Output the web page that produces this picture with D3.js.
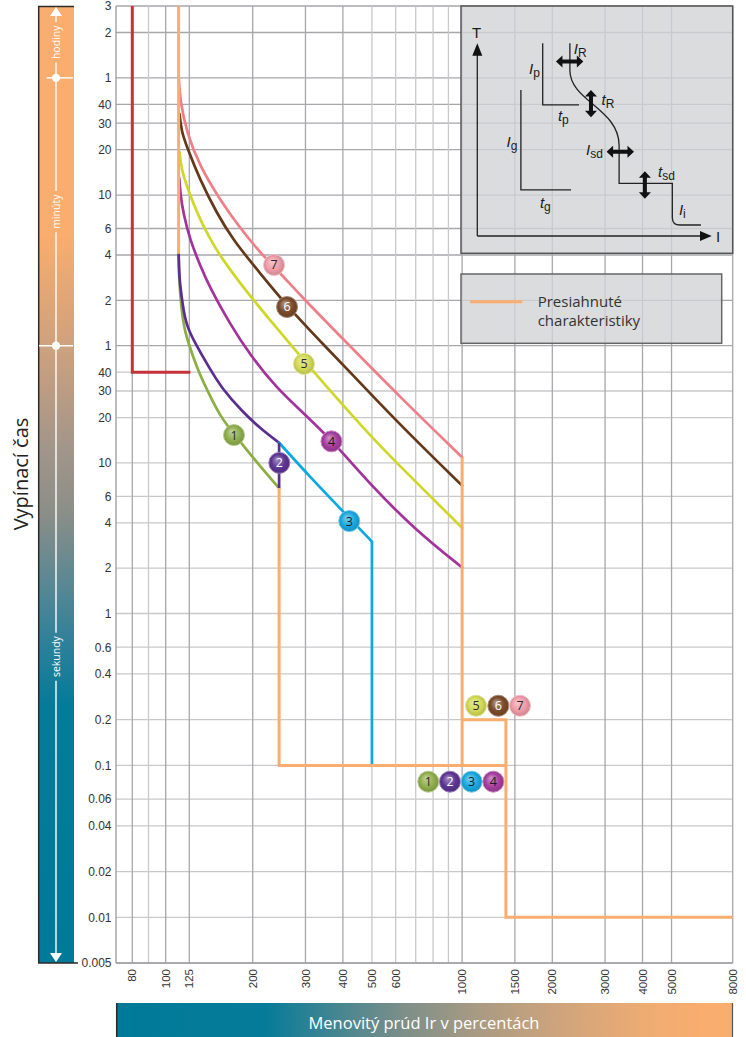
<!DOCTYPE html>
<html><head><meta charset="utf-8">
<script src="https://cdn.jsdelivr.net/npm/d3@7"></script>
<style>html,body{margin:0;padding:0;background:#fff;} svg{display:block;}</style>
</head><body>
<svg id="chart" width="746" height="1037"></svg>
<script>
// ---------------- data ----------------
const xTickValues = [80, 100, 125, 200, 300, 400, 500, 600, 1000, 1500, 2000, 3000, 4000, 5000, 8000];
const xGridDark = [80, 100, 125, 200, 300, 400, 1000, 1500, 2000, 3000, 4000, 5000, 8000];
const xGridLight = [90, 500, 600, 700, 800, 900];
const yTickValues = [10800, 7200, 3600, 2400, 1800, 1200, 600, 360, 240, 120, 60, 40, 30, 20, 10, 6, 4, 2, 1, 0.6, 0.4, 0.2, 0.1, 0.06, 0.04, 0.02, 0.01, 0.005];
const yTickLabels = ["3","2","1","40","30","20","10","6","4","2","1","40","30","20","10","6","4","2","1","0.6","0.4","0.2","0.1","0.06","0.04","0.02","0.01","0.005"];
const timeUnitLabels = ["hodiny", "minúty", "sekundy"];
const timeUnitCenters = [6200, 465, 0.52];
const timeUnitMarks = [3600, 60];

// curves: [current % of Ir, trip time in s]
const curve1 = [[113,240],[113.3,200],[113.9,151.9],[116.1,103.6],[119.5,76.3],[124.7,60.7],[132.3,42.7],[142.5,30.5],[158.1,19.9],[174.1,15.6],[206.2,10.1],[245,6.8]];
const curve2 = [[113,244],[113.4,200],[113.9,170],[115.6,135],[118.3,103.6],[122.3,79.9],[131.4,60.7],[145.7,42.0],[158.9,31.4],[184.3,22.1],[211.5,17.0],[245,13.6]];
const curve2Drop = [[245,13.6],[245,6.8]];
const curve3 = [[245,13.6],[310.7,8.06],[420.1,4.31],[500,3]];
const curve3Drop = [[500,3],[500,0.1]];
const curve4 = [[113.7,776],[115,600],[118.1,456],[125.65,302],[135.3,206],[145.7,145],[169,83.6],[196,52.1],[240.5,31.4],[287.6,22.5],[367,14.2],[505.4,6.81],[705.4,3.53],[1000,2.02]];
const curve5 = [[113.9,1160],[116,900],[122,682],[135.3,410],[147.9,293],[156.9,236.5],[191.3,136.4],[234.3,83.6],[298.9,46.8],[480.5,16.0],[604.9,10.0],[1000,3.70]];
const curve6 = [[114,2070],[116,1600],[122,1258],[135.3,756],[153.2,456],[172.8,302],[211.5,182],[260.4,110],[335.5,64.5],[422.4,40.1],[620,17.9],[1000,7.06]];
const curve7 = [[113,3700],[114.5,2570],[122,1550],[135,936],[157,557],[182,363],[211,251],[247,182],[288,130],[400,66.5],[620,27.4],[1000,10.9]];
const redLine = [[80,10800],[80,40],[126,40]];
const overA = [[113,10800],[113,244]];
const overB = [[245,6.8],[245,0.1],[1400,0.1],[1400,0.01],[8000,0.01]];
const overC = [[1000,10.9],[1000,0.1]];
const overD = [[1000,0.2],[1400,0.2],[1400,0.1]];

const badgeNums    = [7, 6, 5, 4, 1, 2, 3, 5, 6, 7, 1, 2, 3, 4];
const badgeCurrent = [235.6, 260.4, 296.6, 366.4, 174.1, 245.4, 420.1, 1113, 1321, 1560, 771, 911, 1076, 1271];
const badgeTime    = [206, 108.4, 45.4, 13.9, 15.3, 10.0, 4.11, 0.247, 0.247, 0.247, 0.0781, 0.0781, 0.0781, 0.0781];

const yTitle = "Vypínací čas";
const xTitle = "Menovitý prúd Ir v percentách";
const legendLines = ["Presiahnuté", "charakteristiky"];

// ---------------- styles ----------------
const lineColors = {1:"#8cae43", 2:"#5b2d90", 3:"#0aa9e2", 4:"#a3329b", 5:"#cfd72b", 6:"#653819", 7:"#ef7f87"};
const ballColors = {1:"#8fae4c", 2:"#5d3494", 3:"#19a8e0", 4:"#a63d9f", 5:"#d2d957", 6:"#7a4a2a", 7:"#ee9ba7"};
const ballText = {1:"#2a2a2a", 2:"#ffffff", 3:"#1a1a1a", 4:"#1a1a1a", 5:"#2a2a2a", 6:"#ffffff", 7:"#2a2a2a"};
const orange = "#f9ad6e", teal = "#007a99", red = "#c5323a";
const gridDark = "#a7a7ac", gridLight = "#c9c9cc";

const svg = d3.select("#chart");
const x = d3.scaleLog().domain([80, 90, 100, 125, 200, 8000]).range([132.3, 148.5, 165.7, 189.3, 252.7, 732.7]);
const y = d3.scaleLog().domain([0.005, 1, 10800]).range([963, 613.5, 6]);
const plotLeft = 116, plotRight = x(8000), plotTop = y(10800), plotBottom = y(0.005);

const defs = svg.append("defs");
const vg = defs.append("linearGradient").attr("id","vgrad").attr("x1",0).attr("y1",0).attr("x2",0).attr("y2",1);
[[0,orange],[0.24,orange],[0.36,"#cca17e"],[0.46,"#a3968a"],[0.53,"#8b8e88"],[0.60,"#5c8893"],[0.67,"#2b8099"],[0.73,"#047b99"],[1,teal]]
  .forEach(([o,c]) => vg.append("stop").attr("offset",o).attr("stop-color",c));
const hg = defs.append("linearGradient").attr("id","hgrad").attr("x1",0).attr("y1",0).attr("x2",1).attr("y2",0);
[[0,teal],[0.24,"#057b99"],[0.34,"#3b8492"],[0.46,"#7a8e89"],[0.58,"#a79a83"],[0.72,"#cfa47c"],[0.86,"#eeac72"],[0.95,orange],[1,orange]]
  .forEach(([o,c]) => hg.append("stop").attr("offset",o).attr("stop-color",c));
Object.keys(ballColors).forEach(k => {
  const base = ballColors[k];
  const g = defs.append("radialGradient").attr("id","ball"+k).attr("cx","50%").attr("cy","50%").attr("r","55%").attr("fx","38%").attr("fy","32%");
  g.append("stop").attr("offset",0).attr("stop-color", d3.interpolateRgb(base,"#fff")(0.45));
  g.append("stop").attr("offset",0.6).attr("stop-color", base);
  g.append("stop").attr("offset",1).attr("stop-color", d3.interpolateRgb(base,"#000")(0.18));
});

// ---------------- grid ----------------
const grid = svg.append("g");
grid.selectAll("line.hx").data(yTickValues).join("line")
  .attr("x1", plotLeft).attr("x2", plotRight)
  .attr("y1", d => y(d)).attr("y2", d => y(d))
  .attr("stroke", d => d >= 60 ? gridDark : gridLight).attr("stroke-width", 1.3);
grid.selectAll("line.vl").data(xGridLight).join("line")
  .attr("x1", d => x(d)).attr("x2", d => x(d)).attr("y1", plotTop).attr("y2", plotBottom)
  .attr("stroke", gridLight).attr("stroke-width", 1.3);
grid.selectAll("line.vd").data(xGridDark).join("line")
  .attr("x1", d => x(d)).attr("x2", d => x(d)).attr("y1", plotTop).attr("y2", plotBottom)
  .attr("stroke", gridDark).attr("stroke-width", 1.3);
svg.append("line").attr("x1", plotLeft).attr("x2", plotLeft).attr("y1", plotTop).attr("y2", plotBottom).attr("stroke", "#9a9a9f").attr("stroke-width", 1.3);
svg.append("line").attr("x1", plotLeft).attr("x2", plotRight).attr("y1", plotBottom).attr("y2", plotBottom).attr("stroke", "#9a9a9f").attr("stroke-width", 1.3);

svg.append("g").selectAll("text").data(yTickValues).join("text")
  .attr("x", 111.5).attr("y", d => y(d)).attr("dy", "0.36em")
  .attr("text-anchor", "end").attr("font-family", "'Liberation Sans', Arial, sans-serif")
  .attr("font-size", 12).attr("fill", "#333").text((d,i) => yTickLabels[i]);
svg.append("g").selectAll("text").data(xTickValues).join("text")
  .attr("transform", d => `translate(${x(d)},969) rotate(-90)`)
  .attr("dy", "0.36em").attr("text-anchor", "end")
  .attr("font-family", "'Liberation Sans', Arial, sans-serif").attr("font-size", 11.5).attr("fill", "#333")
  .text(d => d);

// ---------------- inset & legend boxes ----------------
const boxFill = "#d2d3d6";
svg.append("rect").attr("x", 461).attr("y", plotTop).attr("width", plotRight - 461).attr("height", 253.3 - plotTop)
  .attr("fill", boxFill).attr("fill-opacity", 0.8).attr("stroke", "#555").attr("stroke-width", 1.5);
svg.append("rect").attr("x", 461).attr("y", 274).attr("width", 260.7).attr("height", 69.3)
  .attr("fill", boxFill).attr("fill-opacity", 0.8).attr("stroke", "#666").attr("stroke-width", 1.5);

const ix = d3.scaleLinear().domain([0,100]).range([477.3, 711.7]);
const iy = d3.scaleLinear().domain([0,100]).range([236, 43.3]);
const inset = svg.append("g").attr("stroke", "#222").attr("fill", "none").attr("stroke-width", 1.3);
inset.append("line").attr("x1", ix(0)).attr("x2", ix(0)).attr("y1", iy(0)).attr("y2", iy(95));
inset.append("line").attr("x1", ix(0)).attr("x2", ix(96)).attr("y1", iy(0)).attr("y2", iy(0));
svg.append("path").attr("fill", "#111")
  .attr("d", `M${ix(0)},${iy(100)} L${ix(0)-5},${iy(93.5)} L${ix(0)+5},${iy(93.5)} Z`);
svg.append("path").attr("fill", "#111")
  .attr("d", `M${ix(100)},${iy(0)} L${ix(95)},${iy(0)-5} L${ix(95)},${iy(0)+5} Z`);
const lineI = d3.line().x(d => ix(d[0])).y(d => iy(d[1]));
inset.append("path").attr("d", lineI([[27.9,100],[27.9,68],[43.4,68]]));
inset.append("path").attr("d", lineI([[18.6,75.8],[18.6,23.9],[40,23.9]]));
inset.append("path").attr("d",
  `M${ix(39.5)},${iy(100)} L${ix(39.5)},${iy(86)} C${ix(39.5)},${iy(70)} ${ix(60.5)},${iy(66)} ${ix(60.5)},${iy(47)} ` +
  `L${ix(60.5)},${iy(27.3)} L${ix(83.2)},${iy(27.3)} L${ix(83.2)},${iy(9.5)} Q${ix(83.2)},${iy(5.7)} ${ix(86.5)},${iy(5.7)} L${ix(95.4)},${iy(5.7)}`);
function dblArrow(cx, cy, horizontal) {
  const L = 13.7, h = 6.5, w = 6, s = 2;
  const pts = [[-L,0],[-L+h,-w],[-L+h,-s],[L-h,-s],[L-h,-w],[L,0],[L-h,w],[L-h,s],[-L+h,s],[-L+h,w]];
  const X = ix(cx), Y = iy(cy);
  const p = pts.map(([a,b]) => horizontal ? [X+a, Y+b] : [X+b, Y+a]);
  svg.append("path").attr("fill", "#111").attr("d", "M" + p.map(q => q.join(",")).join("L") + "Z");
}
dblArrow(39.4, 90.5, true);
dblArrow(48.5, 68.7, false);
dblArrow(61.0, 43.7, true);
dblArrow(71.5, 26.5, false);
const insetLabels = [
  {m:"T", s:"", u:-0.3, v:102.7, anchor:"middle", it:false},
  {m:"I", s:"", u:101.8, v:-3.1, anchor:"start", it:false},
  {m:"I", s:"p", u:22.1, v:84.1, anchor:"start", it:true},
  {m:"I", s:"R", u:41.2, v:94.7, anchor:"start", it:true},
  {m:"t", s:"p", u:34.4, v:59.9, anchor:"start", it:true},
  {m:"t", s:"R", u:53.0, v:68.0, anchor:"start", it:true},
  {m:"I", s:"g", u:12.5, v:46.4, anchor:"start", it:true},
  {m:"I", s:"sd", u:46.4, v:41.8, anchor:"start", it:true},
  {m:"t", s:"g", u:26.7, v:14.5, anchor:"start", it:true},
  {m:"t", s:"sd", u:77.1, v:30.6, anchor:"start", it:true},
  {m:"I", s:"i", u:86.0, v:10.9, anchor:"start", it:true}
];
insetLabels.forEach(l => {
  const t = svg.append("text").attr("x", ix(l.u)).attr("y", iy(l.v)).attr("text-anchor", l.anchor)
    .attr("font-family", "'Liberation Sans', Arial, sans-serif").attr("font-size", 15).attr("fill", "#1a1a1a");
  t.append("tspan").attr("font-style", l.it ? "italic" : "normal").text(l.m);
  if (l.s) t.append("tspan").attr("font-size", 12).attr("dy", 3).text(l.s);
});

svg.append("line").attr("x1", 470).attr("x2", 522.3).attr("y1", 301.7).attr("y2", 301.7).attr("stroke", orange).attr("stroke-width", 3);
svg.append("g").selectAll("text").data(legendLines).join("text")
  .attr("x", 537.7).attr("y", (d,i) => 306.5 + i*19.5)
  .attr("font-family", "'Open Sans', 'Noto Sans', sans-serif").attr("font-size", 15).attr("fill", "#333").text(d => d);

// ---------------- curves ----------------
const lineLin = d3.line().x(d => x(d[0])).y(d => y(d[1]));
const lineSmooth = d3.line().x(d => x(d[0])).y(d => y(d[1])).curve(d3.curveBasis);
const curves = svg.append("g").attr("fill", "none").attr("stroke-width", 2.7).attr("stroke-linecap", "round");
[[curve7,7],[curve6,6],[curve5,5],[curve4,4],[curve1,1],[curve2,2],[curve3,3]].forEach(([d,k]) => {
  curves.append("path").attr("d", lineSmooth(d)).attr("stroke", lineColors[k]);
});
curves.append("path").attr("d", lineLin(curve2Drop)).attr("stroke", lineColors[2]).attr("stroke-linecap", "butt");
curves.append("path").attr("d", lineLin(curve3Drop)).attr("stroke", lineColors[3]).attr("stroke-linecap", "butt");
svg.append("path").attr("d", lineLin(redLine)).attr("fill", "none").attr("stroke", red).attr("stroke-width", 3);
const over = svg.append("g").attr("fill", "none").attr("stroke", orange).attr("stroke-width", 3).attr("stroke-linejoin", "miter");
[overA, overB, overC, overD].forEach(d => over.append("path").attr("d", lineLin(d)));

// ---------------- badges ----------------
const badges = svg.append("g").selectAll("g").data(badgeNums).join("g")
  .attr("transform", (d,i) => `translate(${x(badgeCurrent[i])},${y(badgeTime[i])})`);
badges.append("circle").attr("r", 10.5).attr("fill", d => `url(#ball${d})`)
  .attr("stroke", d => d3.interpolateRgb(ballColors[d], "#fff")(0.35)).attr("stroke-width", 1);
badges.append("text").attr("text-anchor", "middle").attr("dy", "0.36em")
  .attr("font-family", "'Open Sans', 'Noto Sans', sans-serif").attr("font-size", 12.5)
  .attr("fill", d => ballText[d]).text(d => d);

// ---------------- left time bar ----------------
const barX = 38, barW = 36, cx = 56;
svg.append("rect").attr("x", barX).attr("y", plotTop).attr("width", barW).attr("height", plotBottom - plotTop).attr("fill", "url(#vgrad)");
svg.append("line").attr("x1", barX+0.7).attr("x2", barX+0.7).attr("y1", plotTop).attr("y2", plotBottom).attr("stroke", "#2a2a2a").attr("stroke-width", 1.5);
svg.append("line").attr("x1", barX).attr("x2", barX+barW).attr("y1", plotTop+0.5).attr("y2", plotTop+0.5).attr("stroke", "#2a2a2a").attr("stroke-width", 1.5);
svg.append("line").attr("x1", barX).attr("x2", 78).attr("y1", plotBottom).attr("y2", plotBottom).attr("stroke", "#2a2a2a").attr("stroke-width", 1.5);
const unitTexts = svg.append("g").selectAll("text").data(timeUnitLabels).join("text")
  .attr("transform", (d,i) => `translate(${cx},${y(timeUnitCenters[i])}) rotate(-90)`)
  .attr("text-anchor", "middle").attr("dy", "0.35em")
  .attr("font-family", "'Open Sans', 'Noto Sans', sans-serif").attr("font-size", 10.5).attr("fill", "#fff").text(d => d);
const gaps = [];
unitTexts.each(function(d,i){ const L = this.getComputedTextLength(); const c = y(timeUnitCenters[i]); gaps.push([c - L/2 - 3.5, c + L/2 + 3.5]); });
let segStart = plotTop + 8;
const segs = [];
gaps.forEach(g => { segs.push([segStart, g[0]]); segStart = g[1]; });
segs.push([segStart, plotBottom - 8]);
svg.append("g").selectAll("line").data(segs).join("line")
  .attr("x1", cx).attr("x2", cx).attr("y1", d => d[0]).attr("y2", d => d[1]).attr("stroke", "#fff").attr("stroke-width", 1.4);
svg.append("path").attr("fill", "#fff").attr("d", `M${cx},${plotTop+1} L${cx-6},${plotTop+10} L${cx+6},${plotTop+10} Z`);
svg.append("path").attr("fill", "#fff").attr("d", `M${cx},${plotBottom-1} L${cx-6},${plotBottom-10} L${cx+6},${plotBottom-10} Z`);
svg.append("g").selectAll("circle").data(timeUnitMarks).join("circle").attr("cx", cx).attr("cy", d => y(d)).attr("r", 4.2).attr("fill", "#fff");
svg.append("g").selectAll("line").data(timeUnitMarks).join("line")
  .attr("x1", (d,i) => i === 0 ? 46.5 : 39).attr("x2", 73).attr("y1", d => y(d)).attr("y2", d => y(d))
  .attr("stroke", "#fff").attr("stroke-width", 1.4);

svg.append("text").attr("transform", `translate(28,474) rotate(-90)`).attr("text-anchor", "middle")
  .attr("font-family", "'Open Sans', 'Noto Sans', sans-serif").attr("font-size", 20).attr("fill", "#222").text(yTitle);

// ---------------- bottom current bar ----------------
svg.append("rect").attr("x", plotLeft).attr("y", 1003).attr("width", plotRight - plotLeft).attr("height", 34).attr("fill", "url(#hgrad)");
svg.append("line").attr("x1", plotLeft+0.7).attr("x2", plotLeft+0.7).attr("y1", 1003).attr("y2", 1037).attr("stroke", "#2a2a2a").attr("stroke-width", 1.5);
svg.append("line").attr("x1", plotRight-0.2).attr("x2", plotRight-0.2).attr("y1", 1003).attr("y2", 1037).attr("stroke", "#555").attr("stroke-width", 1.2);
svg.append("text").attr("x", 424).attr("y", 1023).attr("dy", "0.35em").attr("text-anchor", "middle")
  .attr("font-family", "'Open Sans', 'Noto Sans', sans-serif").attr("font-size", 16.5).attr("fill", "#fff").text(xTitle);
</script>
</body></html>
